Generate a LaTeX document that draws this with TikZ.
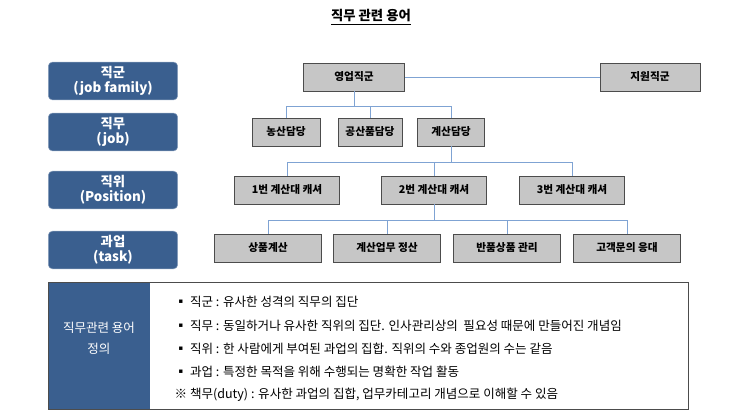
\documentclass[tikz,border=0pt]{standalone}
\usepackage{fontspec}
\setmainfont{Noto Sans CJK KR}
\usetikzlibrary{positioning}
\definecolor{hdblue}{HTML}{3A5F8F}
\definecolor{boxgray}{HTML}{C6C6C6}
\definecolor{linkblue}{HTML}{7FA3D3}
\begin{document}
\begin{tikzpicture}[x=0.75pt,y=-0.75pt,
  every node/.style={font=\fontsize{8}{9}\selectfont\bfseries},
  lvl/.style={draw=hdblue!60,fill=hdblue,rounded corners=3pt,minimum width=97pt,minimum height=26pt,text=white,align=center,font=\fontsize{10}{11}\selectfont\bfseries},
  box/.style={draw=black!70,fill=boxgray,minimum height=21pt,inner sep=0pt},
  link/.style={draw=linkblue,semithick},
  defn/.style={anchor=west,font=\fontsize{9.4}{11}\selectfont}]
  \useasboundingbox (0,0) rectangle (743,410);
  \node (title) at (371,17) {\fontsize{10}{11}\selectfont\bfseries\underline{직무 관련 용어}};
  % levels
  \node[lvl] (l1) at (113,81) {직군\\(job family)};
  \node[lvl] (l2) at (113,132) {직무\\(job)};
  \node[lvl] (l3) at (113,190) {직위\\(Position)};
  \node[lvl] (l4) at (113,250) {과업\\(task)};
  % boxes
  \node[box,minimum width=76pt] (sales) at (354,77) {영업직군};
  \node[box,minimum width=75pt] (support) at (650,77) {지원직군};
  \node[box,minimum width=51pt] (farm) at (286,132) {농산담당};
  \node[box,minimum width=48pt] (ind) at (370,132) {공산품담당};
  \node[box,minimum width=50pt] (calc) at (451,132) {계산담당};
  \node[box,minimum width=79pt] (c1) at (287,190) {1번 계산대 캐셔};
  \node[box,minimum width=79pt] (c2) at (434,190) {2번 계산대 캐셔};
  \node[box,minimum width=79pt] (c3) at (572,190) {3번 계산대 캐셔};
  \node[box,minimum width=80pt] (t1) at (268,248) {상품계산};
  \node[box,minimum width=80pt] (t2) at (387,248) {계산업무 정산};
  \node[box,minimum width=80pt] (t3) at (507,248) {반품상품 관리};
  \node[box,minimum width=80pt] (t4) at (627,248) {고객문의 응대};
  % connectors
  \draw[link] (sales) -- (support);
  \foreach \n in {farm,ind,calc}
    \draw[link] (sales.south) |- (354,106) -| (\n.north);
  \foreach \n in {c1,c2,c3}
    \draw[link] (calc.south) |- (451,162) -| (\n.north);
  \foreach \n in {t1,t2,t3,t4}
    \draw[link] (c2.south) |- (434,220) -| (\n.north);
  % definitions
  \draw[black!70,fill=white] (48,282) rectangle (688,409);
  \fill[hdblue] (48.5,282.5) rectangle (150,408.5);
  \node[defn,anchor=center,text=white,align=center] (deflbl) at (99,338) {직무관련 용어\\[5pt]정의};
  \node[defn] (d1) at (170,302) {▪ 직군 : 유사한 성격의 직무의 집단};
  \node[defn] (d2) at (170,326) {▪ 직무 : 동일하거나 유사한 직위의 집단. 인사관리상의\ \ 필요성 때문에 만들어진 개념임};
  \node[defn] (d3) at (170,349) {▪ 직위 : 한 사람에게 부여된 과업의 집합. 직위의 수와 종업원의 수는 같음};
  \node[defn] (d4) at (170,372) {▪ 과업 : 특정한 목적을 위해 수행되는 명확한 작업 활동};
  \node[defn] (d5) at (170,395) {※ 책무(duty) : 유사한 과업의 집합, 업무카테고리 개념으로 이해할 수 있음};
\end{tikzpicture}
\end{document}
